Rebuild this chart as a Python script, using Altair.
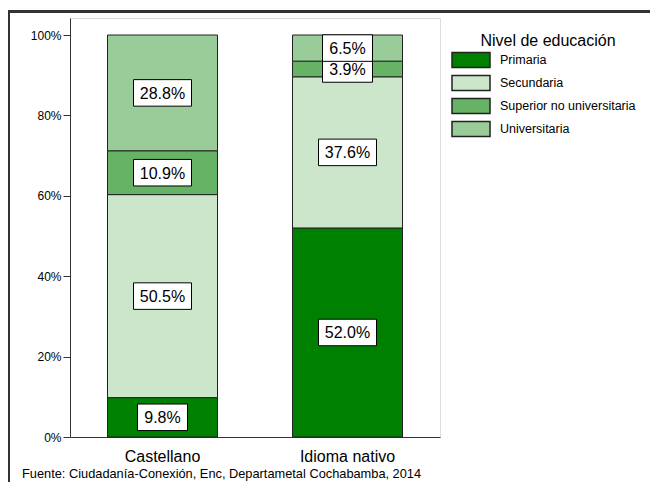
import altair as alt
import pandas as pd

categories = ["Castellano", "Idioma nativo"]
levels = ["Primaria", "Secundaria", "Superior no universitaria", "Universitaria"]
colors = ["#008000", "#cce6cc", "#66b366", "#99cc99"]
castellano = [9.8, 50.5, 10.9, 28.8]
idioma_nativo = [52.0, 37.6, 3.9, 6.5]
caption = "Fuente: Ciudadanía-Conexión, Enc, Departametal Cochabamba, 2014"

FONT = "Liberation Sans"
rows = []
for cat, vals in zip(categories, [castellano, idioma_nativo]):
    acc = 0.0
    for i, (lev, v) in enumerate(zip(levels, vals)):
        lab = f"{v:.1f}%"
        y0 = acc / 100
        y1 = (acc + v) / 100
        mid = (y0 + y1) / 2
        rows.append(dict(cat=cat, level=lev, ord=i, y0=y0, y1=y1, mid=mid,
                         b0=mid - 0.033, b1=mid + 0.033,
                         label=lab, bw=8 * len(lab) + 18))
        acc += v
df = pd.DataFrame(rows)

W, H = 370, 419
xenc = alt.X("cat:N", sort=categories, title=None,
             scale=alt.Scale(paddingInner=0, paddingOuter=0),
             axis=alt.Axis(labelAngle=0, labelFontSize=16, labelFont=FONT, labelColor="black",
                           ticks=False, domainColor="#333", labelPadding=11))
yscale = alt.Scale(domain=[0, 1.0423], nice=False, zero=True)

bars = alt.Chart(df).mark_bar(size=110, stroke="#222", strokeWidth=1).encode(
    x=xenc,
    y=alt.Y("y0:Q", scale=yscale, title=None,
            axis=alt.Axis(values=[0, 0.2, 0.4, 0.6, 0.8, 1.0], format=".0%", grid=False,
                          labelFontSize=12, labelFont=FONT, labelColor="black",
                          tickSize=7, tickColor="#333", domainColor="#333", labelPadding=2)),
    y2="y1:Q",
    color=alt.Color("level:N", sort=levels,
                    scale=alt.Scale(domain=levels, range=colors),
                    legend=alt.Legend(orient="none", legendX=390, legendY=15,
                                      title="Nivel de educación", titleFontSize=16,
                                      titleFont=FONT, titleFontWeight="normal",
                                      titleColor="black", titleAnchor="middle",
                                      titlePadding=0,
                                      labelFontSize=12.5, labelFont=FONT, labelColor="black",
                                      symbolType="M-1.9,-0.75H1.9V0.75H-1.9Z", symbolSize=400,
                                      symbolStrokeColor="#222", symbolStrokeWidth=1.5,
                                      symbolOpacity=1, labelOffset=18, rowPadding=1,
                                      padding=0)),
)

boxes = alt.Chart(df).mark_bar(fill="white", stroke="black", strokeWidth=1).encode(
    x=alt.X("cat:N", sort=categories),
    y=alt.Y("b0:Q", scale=yscale),
    y2="b1:Q",
    size=alt.Size("bw:Q", scale=None, legend=None),
)

texts = alt.Chart(df).mark_text(fontSize=16, font=FONT, color="black",
                                baseline="middle", align="center", dy=1).encode(
    x=alt.X("cat:N", sort=categories),
    y=alt.Y("mid:Q", scale=yscale),
    text="label:N",
)

cap = alt.Chart(pd.DataFrame({"t": [caption]})).mark_text(
    fontSize=12.8, font=FONT, color="black", align="left", baseline="alphabetic").encode(
    x=alt.value(-48), y=alt.value(H + 41), text="t:N")

one = pd.DataFrame({"t": [0]})
frame_top = alt.Chart(one).mark_rule(stroke="#333", strokeWidth=3).encode(
    x=alt.value(-63), x2=alt.value(700), y=alt.value(-6.5))
frame_left = alt.Chart(one).mark_rule(stroke="#333", strokeWidth=3).encode(
    x=alt.value(-61.5), y=alt.value(-8), y2=alt.value(520))

chart = alt.layer(bars, boxes, texts, cap, frame_top, frame_left).properties(
    width=W, height=H,
    autosize=alt.AutoSizeParams(type="none"),
    padding={"left": 62, "top": 10, "right": 210, "bottom": 45},
).configure_view(stroke=None).configure(background="white")

chart.save("out.html", embed_options={"renderer": "svg", "actions": False})
